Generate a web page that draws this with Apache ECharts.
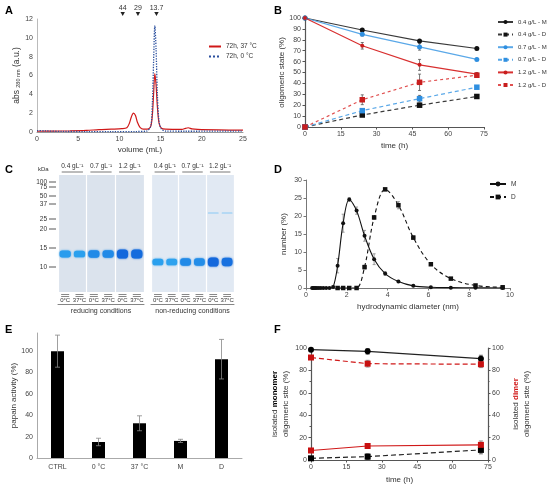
<!DOCTYPE html>
<html>
<head>
<meta charset="utf-8">
<title>Oligomeric state panels</title>
<script src="https://cdn.jsdelivr.net/npm/echarts@6.0.0/dist/echarts.min.js"></script>
<style>
  html, body { margin: 0; padding: 0; background: #fff; }
  #container { width: 550px; height: 489px; }
</style>
</head>
<body>
<div id="container"></div>
<script>
// ---- A: size exclusion chromatogram (volume mL, abs) ----
var volRed37 = [[0,0.08],[2,0.1],[4,0.12],[6,0.17],[7.5,0.25],[9,0.3],[10.3,0.35],[10.9,0.45],[11.2,0.9],[11.45,1.6],[11.7,2.0],[11.95,1.75],[12.2,1.0],[12.5,0.5],[12.9,0.3],[13.4,0.3],[13.8,0.6],[14.0,1.8],[14.15,4.0],[14.3,6.2],[14.45,5.0],[14.6,2.8],[14.8,1.0],[15.1,0.4],[15.6,0.3],[17.6,0.28],[18.0,0.38],[18.35,0.45],[18.8,0.33],[19.5,0.27],[22,0.22],[25,0.2]];
var volBlue0 = [[0,0.15],[1,0.12],[3,0.06],[6,0.05],[9,0.05],[12,0.05],[13.3,0.1],[13.8,0.6],[14.0,3.0],[14.15,7.5],[14.3,11.3],[14.45,8.8],[14.6,4.2],[14.8,1.2],[15.1,0.3],[15.6,0.1],[18,0.08],[25,0.1]];
var stdVolume = [10.4, 12.25, 14.5];
var stdKDa = ['44', '29', '13.7'];

// ---- B: oligomeric state over time ----
var timeB = [0, 24, 48, 72];
var b04M = [100, 89, 79, 72];
var b04D = [0, 11, 20, 28];
var b07M = [100, 85, 73.5, 62];
var b07D = [0, 15, 26, 36.5];
var b12M = [100, 74.5, 57, 48.5];
var b12D = [0, 25, 41, 47.5];
var b04MErr = [0.5, 1.2, 1, 1];
var b04DErr = [0.5, 1, 1, 1];
var b07MErr = [0.5, 1.5, 3, 1];
var b07DErr = [0.5, 1.5, 3, 1];
var b12MErr = [0.5, 3, 5, 1.5];
var b12DErr = [0.5, 4.5, 7.5, 1.5];

// ---- C: SDS-PAGE gel ----
var gelGroups = ['0.4 gL\u207B\u00B9', '0.7 gL\u207B\u00B9', '1.2 gL\u207B\u00B9'];
var gelLanes = ['0\u00B0C', '37\u00B0C', '0\u00B0C', '37\u00B0C', '0\u00B0C', '37\u00B0C'];
var gelConditions = ['reducing conditions', 'non-reducing conditions'];
var ladderKDa = [100, 75, 50, 37, 25, 20, 15, 10];
var ladderMigration = [7, 12, 21, 29, 44, 54, 73, 92];
var redBandMigration = [79, 79, 79, 79, 79, 79];
var redBandIntensity = [0.72, 0.7, 0.82, 0.82, 1, 0.98];
var nonRedBandMigration = [87, 87, 87, 87, 87, 87];
var nonRedBandIntensity = [0.7, 0.68, 0.82, 0.8, 1, 0.95];
var dimerBandMigration = [null, null, null, null, 38, 38];
var dimerBandIntensity = [0, 0, 0, 0, 0.05, 0.05];

// ---- D: DLS number distribution ----
var dlsDiameter = [0.30,0.35,0.40,0.47,0.54,0.63,0.73,0.85,0.99,1.15,1.33,1.55,1.82,2.12,2.48,2.87,3.34,3.88,4.53,5.26,6.12,7.10,8.31,9.64];
var dlsM = [0,0,0,0,0,0,0,0,0,0,0.3,6.2,18,24.6,21.5,14.5,8,4,1.8,0.6,0.2,0.1,0.05,0];
var dlsD = [null,null,null,null,null,null,null,null,null,null,null,0,0,0,0,5.8,19.6,27.4,23,14,6.6,2.6,0.7,0.2];
var dlsMErr = [0,0,0,0,0,0,0,0,0,0,0.3,2,2.5,0.5,1,1.5,1.5,0.5,0.3,0.2,0,0,0,0];
var dlsDErr = [0,0,0,0,0,0,0,0,0,0,0,0,0,0,0,0.5,0.5,0.3,1,0.5,0.3,0.2,0.2,0];

// ---- E: papain activity ----
var activityCats = ['CTRL', '0 \u00B0C', '37 \u00B0C', 'M', 'D'];
var activity = [100, 15, 32.5, 16, 92.5];
var activityErr = [15, 3.5, 7, 1.5, 18.5];

// ---- F: isolated monomer / dimer ----
var timeF = [0, 24, 72];
var monoM = [98.5, 97, 90.5];
var monoMErr = [1, 2.5, 3];
var monoD = [1.5, 3, 9];
var monoDErr = [1, 2.5, 3.5];
var dimerD = [91.5, 86, 85.5];
var dimerDErr = [1.5, 3, 3];
var dimerM = [8.5, 12.5, 13.5];
var dimerMErr = [1, 1.5, 3.5];

var FONT = 'Liberation Sans, Arial, sans-serif';
var gelDepth = 117;

function xy(xs, ys) { return xs.map(function (x, i) { return [x, ys[i]]; }); }
function errData(xs, ys, es) {
  var out = [];
  xs.forEach(function (x, i) { if (ys[i] != null && es[i] > 0) out.push([x, ys[i], es[i]]); });
  return out;
}
function errRender(color, cap) {
  return function (params, api) {
    var x = api.value(0), y = api.value(1), e = api.value(2);
    var a = api.coord([x, y + e]), b = api.coord([x, y - e]);
    var st = { stroke: color, lineWidth: 0.8 };
    return { type: 'group', children: [
      { type: 'line', shape: { x1: a[0], y1: a[1], x2: b[0], y2: b[1] }, style: st },
      { type: 'line', shape: { x1: a[0] - cap, y1: a[1], x2: a[0] + cap, y2: a[1] }, style: st },
      { type: 'line', shape: { x1: b[0] - cap, y1: b[1], x2: b[0] + cap, y2: b[1] }, style: st }
    ]};
  };
}
function errSeries(xi, yi, data, color, cap) {
  return { type: 'custom', xAxisIndex: xi, yAxisIndex: yi, data: data, z: 3,
    renderItem: errRender(color, cap), encode: { x: 0, y: 1 }, silent: true };
}

function lerp(a, b, t) { return Math.round(a + (b - a) * t); }
function bandColor(k) {
  var lo = [176, 216, 245], mid = [42, 160, 238], hi = [20, 104, 220], c;
  if (k < 0.7) { var t = k / 0.7; c = [lerp(lo[0], mid[0], t), lerp(lo[1], mid[1], t), lerp(lo[2], mid[2], t)]; }
  else { var u = Math.min(1, (k - 0.7) / 0.3); c = [lerp(mid[0], hi[0], u), lerp(mid[1], hi[1], u), lerp(mid[2], hi[2], u)]; }
  return 'rgb(' + c.join(',') + ')';
}
function renderBand(params, api) {
  var c = api.coord([api.value(0), api.value(1)]);
  var w = api.size([1, 0])[0] * 0.78;
  var k = api.value(2);
  var h = 1.2 + 7.8 * k;
  var col = bandColor(k);
  return { type: 'rect', shape: { x: c[0] - w / 2, y: c[1] - h / 2, width: w, height: h, r: h / 2.5 },
    style: { fill: col, shadowBlur: k > 0.3 ? 2 : 0, shadowColor: col } };
}
function bandData(mig, inten) {
  var out = [];
  mig.forEach(function (m, i) { if (m != null) out.push([i, m, inten[i]]); });
  return out;
}
function renderHeaderLine(params, api) {
  var p = api.coord([api.value(0), 0]);
  var half = api.size([1, 0])[0] * 0.37;
  return { type: 'line', shape: { x1: p[0] - half, y1: p[1] - 3, x2: p[0] + half, y2: p[1] - 3 },
    style: { stroke: '#555', lineWidth: 0.8 } };
}
function renderLaneMark(params, api) {
  var p = api.coord([api.value(0), gelDepth]);
  var half = api.size([1, 0])[0] * 0.28;
  var st = { stroke: '#555', lineWidth: 0.7 };
  return { type: 'group', children: [
    { type: 'line', shape: { x1: p[0] - half, y1: p[1] + 2.5, x2: p[0] + half, y2: p[1] + 2.5 }, style: st },
    { type: 'line', shape: { x1: p[0] - half, y1: p[1] + 4.5, x2: p[0] + half, y2: p[1] + 4.5 }, style: st }
  ]};
}
// ladder: tick + kDa label left of the first lane
function renderLadder(params, api) {
  var p = api.coord([0, api.value(0)]);
  var edge = p[0] - api.size([1, 0])[0] / 2;
  return { type: 'group', children: [
    { type: 'line', shape: { x1: edge - 9, y1: p[1], x2: edge - 2, y2: p[1] }, style: { stroke: '#444', lineWidth: 0.9 } },
    { type: 'text', style: { x: edge - 11, y: p[1], text: String(api.value(1)), fontSize: 6.5, fontFamily: FONT,
      fill: '#333', align: 'right', verticalAlign: 'middle' } }
  ]};
}
function renderStd(params, api) {
  var p = api.coord([api.value(0), 12]);
  var y = p[1] - 5;
  return { type: 'group', children: [
    { type: 'polygon', shape: { points: [[p[0] - 2.2, y - 2], [p[0] + 2.2, y - 2], [p[0], y + 2]] }, style: { fill: '#222' } },
    { type: 'text', style: { x: p[0], y: y - 6, text: stdKDa[params.dataIndex], fontSize: 7, fontFamily: FONT,
      fill: '#333', align: 'center', verticalAlign: 'middle' } }
  ]};
}

var axisGrey = { color: '#999', width: 1 };
var tickLbl = { fontSize: 7, color: '#444', margin: 4 };
var nameTxt = { fontSize: 8, color: '#333' };

var chart = echarts.init(document.getElementById('container'));

var option = {
  backgroundColor: '#fff',
  animation: false,
  textStyle: { fontFamily: FONT },
  graphic: [
    { type: 'text', left: 5, top: 5, style: { text: 'A', font: 'bold 11px ' + FONT, fill: '#000' } },
    { type: 'text', left: 274, top: 5, style: { text: 'B', font: 'bold 11px ' + FONT, fill: '#000' } },
    { type: 'text', left: 5, top: 164, style: { text: 'C', font: 'bold 11px ' + FONT, fill: '#000' } },
    { type: 'text', left: 274, top: 164, style: { text: 'D', font: 'bold 11px ' + FONT, fill: '#000' } },
    { type: 'text', left: 5, top: 324, style: { text: 'E', font: 'bold 11px ' + FONT, fill: '#000' } },
    { type: 'text', left: 274, top: 324, style: { text: 'F', font: 'bold 11px ' + FONT, fill: '#000' } },
    { type: 'text', left: 38, top: 166, style: { text: 'kDa', fontSize: 6, fill: '#333' } }
  ],
  grid: [
    { left: 37, top: 19, width: 206, height: 113 },
    { left: 305, top: 18, width: 179, height: 109 },
    { left: 58, top: 175, width: 86, height: 117, show: true, backgroundColor: '#dbe3ed', borderWidth: 0 },
    { left: 151, top: 175, width: 83, height: 117, show: true, backgroundColor: '#e1e9f3', borderWidth: 0 },
    { left: 306, top: 180, width: 204, height: 108 },
    { left: 37, top: 333, width: 205, height: 125 },
    { left: 311, top: 348, width: 177, height: 112 }
  ],
  legend: [
    { data: ['72h, 37 \u00B0C', '72h, 0 \u00B0C'], left: 203, top: 38, orient: 'vertical',
      itemWidth: 12, itemHeight: 6, itemGap: 3, itemStyle: { opacity: 0 },
      textStyle: { fontSize: 6.5, color: '#333' } },
    { data: ['0.4 g/L - M', '0.4 g/L - D', '0.7 g/L - M', '0.7 g/L - D', '1.2 g/L - M', '1.2 g/L - D'],
      left: 492, top: 13, orient: 'vertical', itemWidth: 15, itemHeight: 5, itemGap: 4.6,
      textStyle: { fontSize: 6, color: '#333', lineHeight: 8 } },
    { data: ['M', 'D'], left: 484, top: 175, orient: 'vertical', itemWidth: 16, itemHeight: 6, itemGap: 5,
      textStyle: { fontSize: 6.5, color: '#333', lineHeight: 8 } }
  ],
  xAxis: [
    // 0 A
    { type: 'value', gridIndex: 0, min: 0, max: 25, interval: 5, axisLine: { lineStyle: axisGrey },
      axisTick: { show: false }, splitLine: { show: false }, axisLabel: tickLbl,
      name: 'volume (mL)', nameLocation: 'middle', nameGap: 14, nameTextStyle: nameTxt },
    // 1 B
    { type: 'value', gridIndex: 1, min: 0, max: 75, interval: 15, axisLine: { lineStyle: { color: '#555', width: 1.2 } },
      axisTick: { show: true, length: 2.5, lineStyle: { color: '#555' } }, splitLine: { show: false }, axisLabel: tickLbl,
      name: 'time (h)', nameLocation: 'middle', nameGap: 15, nameTextStyle: nameTxt },
    // 2 gel1 groups (top)
    { type: 'category', gridIndex: 2, position: 'top', data: gelGroups, axisLine: { show: false }, axisTick: { show: false },
      axisLabel: { interval: 0, fontSize: 6.5, color: '#333', margin: 5 }, splitLine: { show: true, interval: 0, lineStyle: { color: '#fff', width: 1.2 } } },
    // 3 gel1 lanes (bottom)
    { type: 'category', gridIndex: 2, position: 'bottom', offset: 12, data: gelLanes,
      axisLine: { show: true, lineStyle: { color: '#666', width: 0.8 } }, axisTick: { show: false },
      axisLabel: { interval: 0, inside: true, margin: 1, fontSize: 6, color: '#333' },
      name: gelConditions[0], nameLocation: 'middle', nameGap: 4, nameTextStyle: { fontSize: 7, color: '#333' } },
    // 4 gel2 groups (top)
    { type: 'category', gridIndex: 3, position: 'top', data: gelGroups, axisLine: { show: false }, axisTick: { show: false },
      axisLabel: { interval: 0, fontSize: 6.5, color: '#333', margin: 5 }, splitLine: { show: true, interval: 0, lineStyle: { color: '#fff', width: 1.2 } } },
    // 5 gel2 lanes (bottom)
    { type: 'category', gridIndex: 3, position: 'bottom', offset: 12, data: gelLanes,
      axisLine: { show: true, lineStyle: { color: '#666', width: 0.8 } }, axisTick: { show: false },
      axisLabel: { interval: 0, inside: true, margin: 1, fontSize: 6, color: '#333' },
      name: gelConditions[1], nameLocation: 'middle', nameGap: 4, nameTextStyle: { fontSize: 7, color: '#333' } },
    // 6 D
    { type: 'value', gridIndex: 4, min: 0, max: 10, interval: 2, axisLine: { lineStyle: { color: '#777' } },
      axisTick: { show: true, length: 2.5, lineStyle: { color: '#777' } }, splitLine: { show: false }, axisLabel: tickLbl,
      name: 'hydrodynamic diameter (nm)', nameLocation: 'middle', nameGap: 15, nameTextStyle: nameTxt },
    // 7 E
    { type: 'category', gridIndex: 5, data: activityCats, axisLine: { lineStyle: { color: '#aaa' } },
      axisTick: { show: false }, axisLabel: { fontSize: 7, color: '#444', margin: 6 } },
    // 8 F
    { type: 'value', gridIndex: 6, min: 0, max: 75, interval: 15, axisLine: { lineStyle: { color: '#555', width: 1.2 } },
      axisTick: { show: true, length: 2.5, lineStyle: { color: '#555' } }, splitLine: { show: false }, axisLabel: tickLbl,
      name: 'time (h)', nameLocation: 'middle', nameGap: 16, nameTextStyle: nameTxt }
  ],
  yAxis: [
    // 0 A
    { type: 'value', gridIndex: 0, min: 0, max: 12, interval: 2, axisLine: { show: true, lineStyle: { color: '#bbb' } },
      axisTick: { show: false }, splitLine: { show: false }, axisLabel: tickLbl,
      name: 'abs {s|280 nm} (a.u.)', nameLocation: 'middle', nameRotate: 90, nameGap: 16,
      nameTextStyle: { fontSize: 8.5, color: '#333', rich: { s: { fontSize: 5.5, verticalAlign: 'bottom', color: '#333' } } } },
    // 1 B
    { type: 'value', gridIndex: 1, min: 0, max: 100, interval: 10, axisLine: { show: true, lineStyle: { color: '#555', width: 1.2 } },
      axisTick: { show: true, length: 2.5, lineStyle: { color: '#555' } }, splitLine: { show: false }, axisLabel: tickLbl,
      name: 'oligomeric state (%)', nameLocation: 'middle', nameRotate: 90, nameGap: 19, nameTextStyle: nameTxt },
    // 2 gel1 (migration distance)
    { type: 'value', gridIndex: 2, inverse: true, min: 0, max: gelDepth, show: false },
    // 3 gel2
    { type: 'value', gridIndex: 3, inverse: true, min: 0, max: gelDepth, show: false },
    // 4 D
    { type: 'value', gridIndex: 4, min: 0, max: 30, interval: 5, axisLine: { show: true, lineStyle: { color: '#777' } },
      axisTick: { show: true, length: 2.5, lineStyle: { color: '#777' } }, splitLine: { show: false }, axisLabel: tickLbl,
      name: 'number (%)', nameLocation: 'middle', nameRotate: 90, nameGap: 18, nameTextStyle: nameTxt },
    // 5 E
    { type: 'value', gridIndex: 5, min: 0, max: 117, interval: 20, axisLine: { show: true, lineStyle: { color: '#aaa' } },
      axisTick: { show: false }, splitLine: { show: false }, axisLabel: { fontSize: 7, color: '#444', margin: 4, showMaxLabel: false },
      name: 'papain activity (%)', nameLocation: 'middle', nameRotate: 90, nameGap: 18, nameTextStyle: nameTxt },
    // 6 F left
    { type: 'value', gridIndex: 6, min: 0, max: 100, interval: 20, position: 'left',
      axisLine: { show: true, lineStyle: { color: '#555', width: 1.2 } },
      axisTick: { show: true, length: 2.5, lineStyle: { color: '#555' } },
      minorTick: { show: true, splitNumber: 2, length: 1.5, lineStyle: { color: '#555' } },
      splitLine: { show: false }, axisLabel: tickLbl,
      name: 'isolated {b|monomer}\noligomeric stte (%)', nameLocation: 'middle', nameRotate: 90, nameGap: 19,
      nameTextStyle: { fontSize: 8, color: '#333', lineHeight: 11,
        rich: { b: { fontSize: 8, fontWeight: 'bold', color: '#000' } } } },
    // 7 F right
    { type: 'value', gridIndex: 6, min: 0, max: 100, interval: 20, position: 'right',
      axisLine: { show: true, lineStyle: { color: '#555', width: 1.2 } },
      axisTick: { show: true, length: 2.5, lineStyle: { color: '#555' } },
      minorTick: { show: true, splitNumber: 2, length: 1.5, lineStyle: { color: '#555' } },
      splitLine: { show: false }, axisLabel: tickLbl,
      name: 'isolated {r|dimer}\noligomeric stte (%)', nameLocation: 'middle', nameRotate: 90, nameGap: 22,
      nameTextStyle: { fontSize: 8, color: '#333', lineHeight: 11,
        rich: { r: { fontSize: 8, fontWeight: 'bold', color: '#d01818' } } } }
  ],
  series: [
    // A
    { type: 'line', name: '72h, 37 \u00B0C', xAxisIndex: 0, yAxisIndex: 0, data: volRed37, symbol: 'none',
      smooth: 0.3, lineStyle: { color: '#d01818', width: 1.2 }, itemStyle: { color: '#d01818' } },
    { type: 'line', name: '72h, 0 \u00B0C', xAxisIndex: 0, yAxisIndex: 0, data: volBlue0, symbol: 'none',
      smooth: 0.3, lineStyle: { color: '#2a4f9e', width: 1.3, type: 'dotted' }, itemStyle: { color: '#2a4f9e' } },
    { type: 'custom', xAxisIndex: 0, yAxisIndex: 0, data: stdVolume.map(function (v) { return [v, 12]; }),
      renderItem: renderStd, silent: true },

    // B
    errSeries(1, 1, errData(timeB, b04M, b04MErr), '#555', 1.5),
    errSeries(1, 1, errData(timeB, b04D, b04DErr), '#555', 1.5),
    errSeries(1, 1, errData(timeB, b07M, b07MErr), '#555', 1.5),
    errSeries(1, 1, errData(timeB, b07D, b07DErr), '#555', 1.5),
    errSeries(1, 1, errData(timeB, b12M, b12MErr), '#555', 1.5),
    errSeries(1, 1, errData(timeB, b12D, b12DErr), '#555', 1.5),
    { type: 'line', name: '0.4 g/L - M', xAxisIndex: 1, yAxisIndex: 1, data: xy(timeB, b04M), symbol: 'circle', symbolSize: 5,
      lineStyle: { color: '#3a3a3a', width: 1.2 }, itemStyle: { color: '#111' } },
    { type: 'line', name: '0.4 g/L - D', xAxisIndex: 1, yAxisIndex: 1, data: xy(timeB, b04D), symbol: 'rect', symbolSize: 5.5,
      lineStyle: { color: '#3a3a3a', width: 1.2, type: [4, 3] }, itemStyle: { color: '#111' } },
    { type: 'line', name: '0.7 g/L - M', xAxisIndex: 1, yAxisIndex: 1, data: xy(timeB, b07M), symbol: 'circle', symbolSize: 5,
      lineStyle: { color: '#5aa8e8', width: 1.2 }, itemStyle: { color: '#2f8fe0' } },
    { type: 'line', name: '0.7 g/L - D', xAxisIndex: 1, yAxisIndex: 1, data: xy(timeB, b07D), symbol: 'rect', symbolSize: 5.5,
      lineStyle: { color: '#5aa8e8', width: 1.2, type: [4, 3] }, itemStyle: { color: '#2f8fe0' } },
    { type: 'line', name: '1.2 g/L - M', xAxisIndex: 1, yAxisIndex: 1, data: xy(timeB, b12M), symbol: 'circle', symbolSize: 4,
      lineStyle: { color: '#d83030', width: 1.2 }, itemStyle: { color: '#c81e1e' } },
    { type: 'line', name: '1.2 g/L - D', xAxisIndex: 1, yAxisIndex: 1, data: xy(timeB, b12D), symbol: 'rect', symbolSize: 5.5,
      lineStyle: { color: '#e05050', width: 1.2, type: [3, 3] }, itemStyle: { color: '#c81e1e' } },

    // C gel
    { type: 'custom', xAxisIndex: 3, yAxisIndex: 2, data: bandData(redBandMigration, redBandIntensity), renderItem: renderBand, silent: true, z: 4 },
    { type: 'custom', xAxisIndex: 5, yAxisIndex: 3, data: bandData(nonRedBandMigration, nonRedBandIntensity), renderItem: renderBand, silent: true, z: 4 },
    { type: 'custom', xAxisIndex: 5, yAxisIndex: 3, data: bandData(dimerBandMigration, dimerBandIntensity), renderItem: renderBand, silent: true, z: 4 },
    { type: 'custom', xAxisIndex: 2, yAxisIndex: 2, data: gelGroups.map(function (g, i) { return [i, 0]; }), renderItem: renderHeaderLine, silent: true },
    { type: 'custom', xAxisIndex: 4, yAxisIndex: 3, data: gelGroups.map(function (g, i) { return [i, 0]; }), renderItem: renderHeaderLine, silent: true },
    { type: 'custom', xAxisIndex: 3, yAxisIndex: 2, data: gelLanes.map(function (g, i) { return [i, gelDepth]; }), renderItem: renderLaneMark, silent: true },
    { type: 'custom', xAxisIndex: 5, yAxisIndex: 3, data: gelLanes.map(function (g, i) { return [i, gelDepth]; }), renderItem: renderLaneMark, silent: true },
    { type: 'custom', xAxisIndex: 3, yAxisIndex: 2, data: ladderMigration.map(function (m, i) { return [m, ladderKDa[i]]; }),
      encode: { y: 0 }, renderItem: renderLadder, silent: true },

    // D
    errSeries(6, 4, errData(dlsDiameter, dlsM, dlsMErr), '#888', 1.5),
    errSeries(6, 4, errData(dlsDiameter, dlsD, dlsDErr), '#888', 1.5),
    { type: 'line', name: 'M', xAxisIndex: 6, yAxisIndex: 4, data: xy(dlsDiameter, dlsM), symbol: 'circle', symbolSize: 4,
      smooth: 0.35, lineStyle: { color: '#111', width: 1.1 }, itemStyle: { color: '#111' } },
    { type: 'line', name: 'D', xAxisIndex: 6, yAxisIndex: 4, data: xy(dlsDiameter, dlsD), symbol: 'rect', symbolSize: 4.5,
      smooth: 0.35, connectNulls: false, lineStyle: { color: '#111', width: 1.1, type: [4, 3] }, itemStyle: { color: '#111' } },

    // E
    { type: 'bar', xAxisIndex: 7, yAxisIndex: 5, data: activity, barWidth: 13, itemStyle: { color: '#000' } },
    errSeries(7, 5, activity.map(function (v, i) { return [i, v, activityErr[i]]; }), '#888', 2.5),

    // F
    errSeries(8, 6, errData(timeF, monoM, monoMErr), '#444', 2),
    errSeries(8, 6, errData(timeF, monoD, monoDErr), '#444', 2),
    errSeries(8, 7, errData(timeF, dimerD, dimerDErr), '#777', 2),
    errSeries(8, 7, errData(timeF, dimerM, dimerMErr), '#777', 2),
    { type: 'line', xAxisIndex: 8, yAxisIndex: 6, data: xy(timeF, monoM), symbol: 'circle', symbolSize: 6,
      lineStyle: { color: '#222', width: 1.2 }, itemStyle: { color: '#000' } },
    { type: 'line', xAxisIndex: 8, yAxisIndex: 6, data: xy(timeF, monoD), symbol: 'rect', symbolSize: 6,
      lineStyle: { color: '#222', width: 1.2, type: [5, 3] }, itemStyle: { color: '#000' } },
    { type: 'line', xAxisIndex: 8, yAxisIndex: 7, data: xy(timeF, dimerD), symbol: 'rect', symbolSize: 6,
      lineStyle: { color: '#d01818', width: 1.2, type: [5, 3] }, itemStyle: { color: '#c81010' } },
    { type: 'line', xAxisIndex: 8, yAxisIndex: 7, data: xy(timeF, dimerM), symbol: 'rect', symbolSize: 6,
      lineStyle: { color: '#d01818', width: 1.2 }, itemStyle: { color: '#c81010' } }
  ]
};

chart.setOption(option);
</script>
</body>
</html>
